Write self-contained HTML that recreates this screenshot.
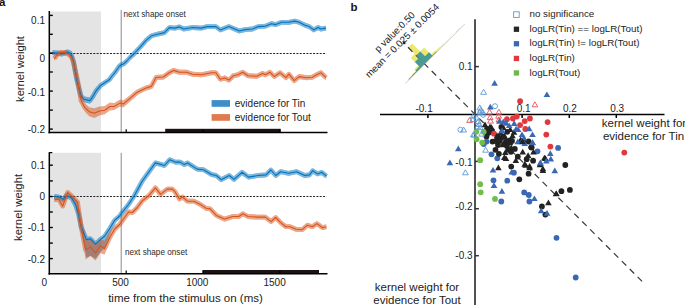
<!DOCTYPE html><html><head><meta charset="utf-8"><style>html,body{margin:0;padding:0;background:#fff;}svg{display:block;}text{font-family:"Liberation Sans", sans-serif;}</style></head><body>
<svg width="685" height="305" viewBox="0 0 685 305">
<rect width="685" height="305" fill="#fff"/>
<text x="-1" y="6.2" font-size="11.5" font-weight="bold" fill="#1a1010">a</text>
<text x="350.5" y="11.2" font-size="11.5" font-weight="bold" fill="#1a1010">b</text>
<rect x="50" y="11.5" width="51" height="121.1" fill="#e4e4e4"/>
<line x1="121.2" y1="10.0" x2="121.2" y2="132.6" stroke="#8a8a8a" stroke-width="1"/>
<line x1="50" y1="53.5" x2="326.5" y2="53.5" stroke="#222" stroke-width="1" stroke-dasharray="2,1.33"/>
<g opacity="0.5">
<polygon points="52.5,50.2 57.0,50.6 61.5,51.6 64.0,51.1 67.2,49.5 70.0,50.4 71.5,53.1 73.5,59.1 76.8,77.6 81.1,93.4 84.0,96.2 89.9,97.4 92.1,94.4 96.5,87.7 101.0,82.8 105.4,79.8 109.2,77.4 112.0,73.6 115.1,69.9 119.3,63.8 121.5,62.1 123.3,61.7 126.8,58.6 130.0,55.1 133.8,51.6 138.5,46.5 140.0,45.0 145.8,38.3 151.7,33.3 157.5,31.8 164.5,30.2 169.3,25.2 175.0,25.7 179.4,24.5 183.8,26.6 192.6,25.1 201.3,25.7 207.2,24.2 215.9,24.2 220.3,27.5 229.0,24.2 239.3,28.6 245.1,27.2 252.4,26.6 258.2,24.2 265.5,23.7 271.4,21.3 275.8,22.2 281.6,19.9 288.9,19.9 294.7,18.7 299.1,19.9 305.0,22.8 309.3,24.2 313.7,27.5 318.1,25.1 321.0,26.6 326.0,25.7 326.0,30.5 321.0,31.4 318.1,29.9 313.7,32.3 309.3,29.0 305.0,27.6 299.1,24.7 294.7,23.5 288.9,24.7 281.6,24.7 275.8,27.0 271.4,26.1 265.5,28.5 258.2,29.0 252.4,31.4 245.1,32.0 239.3,33.4 229.0,29.0 220.3,32.3 215.9,29.0 207.2,29.0 201.3,30.5 192.6,29.9 183.8,31.4 179.4,29.3 175.0,30.5 169.3,30.0 164.5,35.0 157.5,36.6 151.7,38.1 145.8,43.1 140.0,49.8 138.5,51.3 133.8,56.4 130.0,59.9 126.8,63.4 123.3,66.5 121.5,66.9 119.3,68.6 115.1,74.7 112.0,78.4 109.2,82.2 105.4,84.6 101.0,87.6 96.5,92.9 92.1,101.0 89.9,103.8 84.0,102.2 81.1,99.0 76.8,82.4 73.5,63.9 71.5,57.9 70.0,55.2 67.2,54.3 64.0,55.9 61.5,56.4 57.0,55.4 52.5,55.0" fill="#0072bd" />
<polyline points="52.5,52.6 57.0,53.0 61.5,54.0 64.0,53.5 67.2,51.9 70.0,52.8 71.5,55.5 73.5,61.5 76.8,80.0 81.1,96.2 84.0,99.2 89.9,100.6 92.1,97.7 96.5,90.3 101.0,85.2 105.4,82.2 109.2,79.8 112.0,76.0 115.1,72.3 119.3,66.2 121.5,64.5 123.3,64.1 126.8,61.0 130.0,57.5 133.8,54.0 138.5,48.9 140.0,47.4 145.8,40.7 151.7,35.7 157.5,34.2 164.5,32.6 169.3,27.6 175.0,28.1 179.4,26.9 183.8,29.0 192.6,27.5 201.3,28.1 207.2,26.6 215.9,26.6 220.3,29.9 229.0,26.6 239.3,31.0 245.1,29.6 252.4,29.0 258.2,26.6 265.5,26.1 271.4,23.7 275.8,24.6 281.6,22.3 288.9,22.3 294.7,21.1 299.1,22.3 305.0,25.2 309.3,26.6 313.7,29.9 318.1,27.5 321.0,29.0 326.0,28.1" fill="none" stroke="#0072bd" stroke-width="4.8" stroke-linejoin="round"/>
</g>
<g opacity="0.5">
<polygon points="54.3,56.3 57.0,52.6 60.2,49.9 64.9,50.0 68.0,51.6 71.5,54.6 73.5,60.1 77.5,77.6 81.1,97.4 84.7,103.2 89.2,107.2 94.3,108.3 99.5,106.5 104.7,106.1 109.8,102.6 114.2,102.9 120.2,99.4 123.3,100.6 129.1,96.2 137.3,89.7 145.5,85.7 151.3,83.9 156.0,75.0 163.4,74.5 169.2,70.3 173.6,67.9 179.4,69.7 186.7,69.7 192.6,71.7 201.3,72.3 211.5,70.3 215.9,70.3 220.3,76.7 224.7,75.5 229.0,77.6 233.4,73.2 237.8,72.3 242.8,69.7 248.0,73.2 256.8,73.8 262.6,70.9 265.5,72.3 269.9,69.7 274.3,74.1 280.1,70.3 286.0,75.2 288.9,71.7 294.2,78.2 299.1,74.1 306.4,75.2 312.3,74.7 316.6,72.3 321.0,70.3 326.0,75.2 326.0,80.2 321.0,75.3 316.6,77.3 312.3,79.7 306.4,80.2 299.1,79.1 294.2,83.2 288.9,76.7 286.0,80.2 280.1,75.3 274.3,79.1 269.9,74.7 265.5,77.3 262.6,75.9 256.8,78.8 248.0,78.2 242.8,74.7 237.8,77.3 233.4,78.2 229.0,82.6 224.7,80.5 220.3,81.7 215.9,75.3 211.5,75.3 201.3,77.3 192.6,76.7 186.7,74.7 179.4,74.7 173.6,72.9 169.2,75.3 163.4,79.5 156.0,80.0 151.3,88.9 145.5,90.7 137.3,94.7 129.1,102.2 123.3,107.4 120.2,106.4 114.2,110.1 109.8,110.4 104.7,114.3 99.5,115.5 94.3,118.1 89.2,116.2 84.7,111.4 81.1,103.8 77.5,82.4 73.5,64.9 71.5,59.4 68.0,56.4 64.9,54.8 60.2,54.7 57.0,57.4 54.3,61.1" fill="#d95319" />
<polyline points="54.3,58.7 57.0,55.0 60.2,52.3 64.9,52.4 68.0,54.0 71.5,57.0 73.5,62.5 77.5,80.0 81.1,100.6 84.7,107.3 89.2,111.7 94.3,113.2 99.5,111.0 104.7,110.2 109.8,106.5 114.2,106.5 120.2,102.9 123.3,104.0 129.1,99.2 137.3,92.2 145.5,88.2 151.3,86.4 156.0,77.5 163.4,77.0 169.2,72.8 173.6,70.4 179.4,72.2 186.7,72.2 192.6,74.2 201.3,74.8 211.5,72.8 215.9,72.8 220.3,79.2 224.7,78.0 229.0,80.1 233.4,75.7 237.8,74.8 242.8,72.2 248.0,75.7 256.8,76.3 262.6,73.4 265.5,74.8 269.9,72.2 274.3,76.6 280.1,72.8 286.0,77.7 288.9,74.2 294.2,80.7 299.1,76.6 306.4,77.7 312.3,77.2 316.6,74.8 321.0,72.8 326.0,77.7" fill="none" stroke="#d95319" stroke-width="4.8" stroke-linejoin="round"/>
</g>
<polyline points="52.5,52.6 57.0,53.0 61.5,54.0 64.0,53.5 67.2,51.9 70.0,52.8 71.5,55.5 73.5,61.5 76.8,80.0 81.1,96.2 84.0,99.2 89.9,100.6 92.1,97.7 96.5,90.3 101.0,85.2 105.4,82.2 109.2,79.8 112.0,76.0 115.1,72.3 119.3,66.2 121.5,64.5 123.3,64.1 126.8,61.0 130.0,57.5 133.8,54.0 138.5,48.9 140.0,47.4 145.8,40.7 151.7,35.7 157.5,34.2 164.5,32.6 169.3,27.6 175.0,28.1 179.4,26.9 183.8,29.0 192.6,27.5 201.3,28.1 207.2,26.6 215.9,26.6 220.3,29.9 229.0,26.6 239.3,31.0 245.1,29.6 252.4,29.0 258.2,26.6 265.5,26.1 271.4,23.7 275.8,24.6 281.6,22.3 288.9,22.3 294.7,21.1 299.1,22.3 305.0,25.2 309.3,26.6 313.7,29.9 318.1,27.5 321.0,29.0 326.0,28.1" fill="none" stroke="#0072bd" stroke-width="1.1" stroke-linejoin="round"/>
<polyline points="54.3,58.7 57.0,55.0 60.2,52.3 64.9,52.4 68.0,54.0 71.5,57.0 73.5,62.5 77.5,80.0 81.1,100.6 84.7,107.3 89.2,111.7 94.3,113.2 99.5,111.0 104.7,110.2 109.8,106.5 114.2,106.5 120.2,102.9 123.3,104.0 129.1,99.2 137.3,92.2 145.5,88.2 151.3,86.4 156.0,77.5 163.4,77.0 169.2,72.8 173.6,70.4 179.4,72.2 186.7,72.2 192.6,74.2 201.3,74.8 211.5,72.8 215.9,72.8 220.3,79.2 224.7,78.0 229.0,80.1 233.4,75.7 237.8,74.8 242.8,72.2 248.0,75.7 256.8,76.3 262.6,73.4 265.5,74.8 269.9,72.2 274.3,76.6 280.1,72.8 286.0,77.7 288.9,74.2 294.2,80.7 299.1,76.6 306.4,77.7 312.3,77.2 316.6,74.8 321.0,72.8 326.0,77.7" fill="none" stroke="#d95319" stroke-width="1.1" stroke-linejoin="round"/>
<rect x="165.2" y="128.8" width="115.5" height="3.8" fill="#1c1212"/>
<line x1="49.3" y1="11.0" x2="49.3" y2="133.3" stroke="#000" stroke-width="1.5"/>
<line x1="48.5" y1="132.6" x2="327.5" y2="132.6" stroke="#000" stroke-width="1.5"/>
<line x1="49.3" y1="15.4" x2="52.8" y2="15.4" stroke="#000" stroke-width="1.4"/>
<line x1="49.3" y1="34.3" x2="52.8" y2="34.3" stroke="#000" stroke-width="1.4"/>
<line x1="49.3" y1="53.1" x2="52.8" y2="53.1" stroke="#000" stroke-width="1.4"/>
<line x1="49.3" y1="72.0" x2="52.8" y2="72.0" stroke="#000" stroke-width="1.4"/>
<line x1="49.3" y1="91.1" x2="52.8" y2="91.1" stroke="#000" stroke-width="1.4"/>
<line x1="49.3" y1="110.1" x2="52.8" y2="110.1" stroke="#000" stroke-width="1.4"/>
<line x1="49.3" y1="129.1" x2="52.8" y2="129.1" stroke="#000" stroke-width="1.4"/>
<line x1="126.2" y1="132.6" x2="126.2" y2="129.3" stroke="#000" stroke-width="1.2"/>
<line x1="203.0" y1="132.6" x2="203.0" y2="129.3" stroke="#000" stroke-width="1.2"/>
<line x1="279.8" y1="132.6" x2="279.8" y2="129.3" stroke="#000" stroke-width="1.2"/>
<text x="45" y="23.6" font-size="10" text-anchor="end" fill="#222">0.1</text>
<text x="45" y="61.9" font-size="10" text-anchor="end" fill="#222">0</text>
<text x="45" y="95.7" font-size="10" text-anchor="end" fill="#222">-0.1</text>
<text x="45" y="132.6" font-size="10" text-anchor="end" fill="#222">-0.2</text>
<text x="123.5" y="16.9" font-size="8.2" fill="#2a2a2a">next shape onset</text>
<rect x="50" y="152.8" width="51" height="121.0" fill="#e4e4e4"/>
<line x1="121.2" y1="152.8" x2="121.2" y2="273.8" stroke="#8a8a8a" stroke-width="1"/>
<line x1="50" y1="196.5" x2="326.5" y2="196.5" stroke="#222" stroke-width="1" stroke-dasharray="2,1.33"/>
<g opacity="0.5">
<polygon points="54.4,193.9 59.8,194.9 63.2,196.9 66.2,193.4 71.6,195.4 75.5,202.3 78.4,211.1 81.2,224.3 86.4,237.1 90.5,236.3 95.5,241.7 100.4,237.1 104.8,233.5 109.8,226.1 114.7,217.9 119.6,213.6 124.5,207.1 128.5,202.1 134.4,193.1 142.2,178.8 148.8,169.6 155.4,160.5 164.5,163.1 169.8,157.3 175.3,159.7 180.2,159.7 184.3,162.2 187.6,160.6 197.1,166.7 203.5,167.3 211.5,172.1 216.3,173.1 221.2,177.3 229.2,173.1 234.0,177.0 242.0,169.9 248.5,174.7 258.1,173.1 266.1,172.5 270.9,167.6 275.7,173.1 280.6,169.3 288.6,170.9 296.6,169.3 304.7,173.1 309.5,172.5 312.7,168.3 317.5,171.5 321.7,169.9 326.5,173.7 326.5,178.5 321.7,174.7 317.5,176.3 312.7,173.1 309.5,177.3 304.7,177.9 296.6,174.1 288.6,175.7 280.6,174.1 275.7,177.9 270.9,172.4 266.1,177.3 258.1,177.9 248.5,179.5 242.0,174.7 234.0,181.8 229.2,177.9 221.2,182.1 216.3,177.9 211.5,176.9 203.5,172.1 197.1,171.5 187.6,165.4 184.3,167.0 180.2,164.5 175.3,164.5 169.8,162.1 164.5,167.9 155.4,165.3 148.8,174.4 142.2,183.6 134.4,197.9 128.5,206.9 124.5,211.9 119.6,218.4 114.7,223.3 109.8,234.5 104.8,248.0 100.4,252.1 95.5,258.7 90.5,255.8 86.4,257.6 81.2,230.3 78.4,216.3 75.5,207.1 71.6,200.2 66.2,198.2 63.2,201.7 59.8,199.7 54.4,198.7" fill="#0072bd" />
<polyline points="54.4,196.3 59.8,197.3 63.2,199.3 66.2,195.8 71.6,197.8 75.5,204.7 78.4,213.5 81.2,226.8 86.4,239.6 90.5,238.8 95.5,244.2 100.4,239.6 104.8,236.0 109.8,228.5 114.7,220.3 119.6,216.0 124.5,209.5 128.5,204.5 134.4,195.5 142.2,181.2 148.8,172.0 155.4,162.9 164.5,165.5 169.8,159.7 175.3,162.1 180.2,162.1 184.3,164.6 187.6,163.0 197.1,169.1 203.5,169.7 211.5,174.5 216.3,175.5 221.2,179.7 229.2,175.5 234.0,179.4 242.0,172.3 248.5,177.1 258.1,175.5 266.1,174.9 270.9,170.0 275.7,175.5 280.6,171.7 288.6,173.3 296.6,171.7 304.7,175.5 309.5,174.9 312.7,170.7 317.5,173.9 321.7,172.3 326.5,176.1" fill="none" stroke="#0072bd" stroke-width="4.8" stroke-linejoin="round"/>
</g>
<g opacity="0.5">
<polygon points="54.4,197.3 58.8,196.9 62.7,203.7 67.6,190.0 72.5,194.4 77.5,199.7 79.4,212.3 81.2,223.8 85.6,240.0 90.5,238.5 95.5,244.5 100.4,239.6 104.5,240.8 109.8,231.3 114.7,225.0 119.6,222.0 123.5,216.6 128.5,209.6 132.4,210.1 137.3,205.1 142.2,198.5 148.8,193.3 155.4,185.4 160.6,192.0 167.2,186.7 172.4,186.7 175.0,189.3 179.4,196.6 182.6,194.6 187.4,198.8 193.9,198.8 200.3,202.0 206.1,205.9 210.2,206.5 216.3,213.0 224.5,216.7 232.7,214.1 238.8,214.1 242.9,211.4 248.0,214.1 257.2,214.7 265.4,214.7 271.1,219.2 275.6,215.1 280.7,220.2 285.8,224.3 289.9,224.3 296.1,226.9 302.2,227.3 307.3,222.8 312.4,224.3 316.9,221.2 322.6,225.3 326.3,224.3 326.3,229.1 322.6,230.1 316.9,226.0 312.4,229.1 307.3,227.6 302.2,232.1 296.1,231.7 289.9,229.1 285.8,229.1 280.7,225.0 275.6,219.9 271.1,224.0 265.4,219.5 257.2,219.5 248.0,218.9 242.9,216.2 238.8,218.9 232.7,218.9 224.5,221.5 216.3,217.8 210.2,211.3 206.1,210.7 200.3,206.8 193.9,203.6 187.4,203.6 182.6,199.4 179.4,201.4 175.0,194.1 172.4,191.5 167.2,191.5 160.6,196.8 155.4,190.2 148.8,198.1 142.2,203.3 137.3,209.9 132.4,214.9 128.5,214.4 123.5,221.4 119.6,226.9 114.7,232.0 109.8,241.8 104.5,254.8 100.4,253.1 95.5,260.5 90.5,256.0 85.6,259.5 81.2,231.8 79.4,218.9 77.5,204.9 72.5,199.2 67.6,194.8 62.7,208.5 58.8,201.7 54.4,202.1" fill="#d95319" />
<polyline points="54.4,199.7 58.8,199.3 62.7,206.1 67.6,192.4 72.5,196.8 77.5,202.2 79.4,215.0 81.2,226.8 85.6,250.0 90.5,247.0 95.5,253.0 100.4,245.6 104.5,248.8 109.8,237.3 114.7,229.0 119.6,224.5 123.5,219.0 128.5,212.0 132.4,212.5 137.3,207.5 142.2,200.9 148.8,195.7 155.4,187.8 160.6,194.4 167.2,189.1 172.4,189.1 175.0,191.7 179.4,199.0 182.6,197.0 187.4,201.2 193.9,201.2 200.3,204.4 206.1,208.3 210.2,208.9 216.3,215.4 224.5,219.1 232.7,216.5 238.8,216.5 242.9,213.8 248.0,216.5 257.2,217.1 265.4,217.1 271.1,221.6 275.6,217.5 280.7,222.6 285.8,226.7 289.9,226.7 296.1,229.3 302.2,229.7 307.3,225.2 312.4,226.7 316.9,223.6 322.6,227.7 326.3,226.7" fill="none" stroke="#d95319" stroke-width="4.8" stroke-linejoin="round"/>
</g>
<polyline points="54.4,196.3 59.8,197.3 63.2,199.3 66.2,195.8 71.6,197.8 75.5,204.7 78.4,213.5 81.2,226.8 86.4,239.6 90.5,238.8 95.5,244.2 100.4,239.6 104.8,236.0 109.8,228.5 114.7,220.3 119.6,216.0 124.5,209.5 128.5,204.5 134.4,195.5 142.2,181.2 148.8,172.0 155.4,162.9 164.5,165.5 169.8,159.7 175.3,162.1 180.2,162.1 184.3,164.6 187.6,163.0 197.1,169.1 203.5,169.7 211.5,174.5 216.3,175.5 221.2,179.7 229.2,175.5 234.0,179.4 242.0,172.3 248.5,177.1 258.1,175.5 266.1,174.9 270.9,170.0 275.7,175.5 280.6,171.7 288.6,173.3 296.6,171.7 304.7,175.5 309.5,174.9 312.7,170.7 317.5,173.9 321.7,172.3 326.5,176.1" fill="none" stroke="#0072bd" stroke-width="1.1" stroke-linejoin="round"/>
<polyline points="54.4,199.7 58.8,199.3 62.7,206.1 67.6,192.4 72.5,196.8 77.5,202.2 79.4,215.0 81.2,226.8 85.6,250.0 90.5,247.0 95.5,253.0 100.4,245.6 104.5,248.8 109.8,237.3 114.7,229.0 119.6,224.5 123.5,219.0 128.5,212.0 132.4,212.5 137.3,207.5 142.2,200.9 148.8,195.7 155.4,187.8 160.6,194.4 167.2,189.1 172.4,189.1 175.0,191.7 179.4,199.0 182.6,197.0 187.4,201.2 193.9,201.2 200.3,204.4 206.1,208.3 210.2,208.9 216.3,215.4 224.5,219.1 232.7,216.5 238.8,216.5 242.9,213.8 248.0,216.5 257.2,217.1 265.4,217.1 271.1,221.6 275.6,217.5 280.7,222.6 285.8,226.7 289.9,226.7 296.1,229.3 302.2,229.7 307.3,225.2 312.4,226.7 316.9,223.6 322.6,227.7 326.3,226.7" fill="none" stroke="#d95319" stroke-width="1.1" stroke-linejoin="round"/>
<rect x="202.7" y="270.0" width="116.3" height="3.8" fill="#1c1212"/>
<line x1="49.3" y1="152.3" x2="49.3" y2="274.6" stroke="#000" stroke-width="1.5"/>
<line x1="48.5" y1="273.8" x2="327.5" y2="273.8" stroke="#000" stroke-width="1.5"/>
<line x1="49.3" y1="165.2" x2="52.8" y2="165.2" stroke="#000" stroke-width="1.4"/>
<line x1="49.3" y1="180.9" x2="52.8" y2="180.9" stroke="#000" stroke-width="1.4"/>
<line x1="49.3" y1="196.5" x2="52.8" y2="196.5" stroke="#000" stroke-width="1.4"/>
<line x1="49.3" y1="212.0" x2="52.8" y2="212.0" stroke="#000" stroke-width="1.4"/>
<line x1="49.3" y1="227.5" x2="52.8" y2="227.5" stroke="#000" stroke-width="1.4"/>
<line x1="49.3" y1="243.1" x2="52.8" y2="243.1" stroke="#000" stroke-width="1.4"/>
<line x1="49.3" y1="258.6" x2="52.8" y2="258.6" stroke="#000" stroke-width="1.4"/>
<line x1="49.3" y1="152.6" x2="52.3" y2="152.6" stroke="#000" stroke-width="1.2"/>
<line x1="126.2" y1="273.8" x2="126.2" y2="270.5" stroke="#000" stroke-width="1.2"/>
<line x1="203.0" y1="273.8" x2="203.0" y2="270.5" stroke="#000" stroke-width="1.2"/>
<line x1="279.8" y1="273.8" x2="279.8" y2="270.5" stroke="#000" stroke-width="1.2"/>
<text x="45" y="168.7" font-size="10" text-anchor="end" fill="#222">0.1</text>
<text x="45" y="199.9" font-size="10" text-anchor="end" fill="#222">0</text>
<text x="45" y="231.0" font-size="10" text-anchor="end" fill="#222">-0.1</text>
<text x="45" y="262.6" font-size="10" text-anchor="end" fill="#222">-0.2</text>
<text x="124.9" y="254.9" font-size="8.2" fill="#2a2a2a">next shape onset</text>
<text transform="translate(23.8,69.0) rotate(-90)" font-size="11.2" text-anchor="middle" fill="#222">kernel weight</text>
<text transform="translate(22.4,207.4) rotate(-90)" font-size="11.4" text-anchor="middle" fill="#222">kernel weight</text>
<rect x="211.6" y="100.1" width="18.4" height="6.7" fill="#3d8ec9"/>
<rect x="211.6" y="114.1" width="18.4" height="6.7" fill="#e07a50"/>
<text x="234.8" y="106.6" font-size="10" fill="#222">evidence for Tin</text>
<text x="234.8" y="120.5" font-size="10" fill="#222">evidence for Tout</text>
<text x="44.4" y="285.7" font-size="10" text-anchor="middle" fill="#222">0</text>
<text x="120.5" y="285.7" font-size="10" text-anchor="middle" fill="#222">500</text>
<text x="197.3" y="285.7" font-size="10" text-anchor="middle" fill="#222">1000</text>
<text x="274.6" y="285.7" font-size="10" text-anchor="middle" fill="#222">1500</text>
<text x="185.5" y="301.5" font-size="11.5" text-anchor="middle" fill="#222">time from the stimulus on (ms)</text>
<line x1="380" y1="114.4" x2="664.5" y2="114.4" stroke="#000" stroke-width="1.5"/>
<line x1="475.0" y1="19.2" x2="475.0" y2="305" stroke="#404040" stroke-width="1.8"/>
<line x1="427.9" y1="114.4" x2="427.9" y2="118.0" stroke="#000" stroke-width="1.5"/>
<line x1="522.1" y1="114.4" x2="522.1" y2="118.0" stroke="#000" stroke-width="1.5"/>
<line x1="569.3" y1="114.4" x2="569.3" y2="118.0" stroke="#000" stroke-width="1.5"/>
<line x1="616.3" y1="114.4" x2="616.3" y2="118.0" stroke="#000" stroke-width="1.5"/>
<line x1="475" y1="66.6" x2="478.9" y2="66.6" stroke="#333" stroke-width="1.5"/>
<line x1="475" y1="161.4" x2="478.9" y2="161.4" stroke="#333" stroke-width="1.5"/>
<line x1="475" y1="208.7" x2="478.9" y2="208.7" stroke="#333" stroke-width="1.5"/>
<line x1="475" y1="255.7" x2="478.9" y2="255.7" stroke="#333" stroke-width="1.5"/>
<text x="424.1" y="111.8" font-size="10" text-anchor="middle" fill="#222">-0.1</text>
<text x="523.6" y="111.8" font-size="10" text-anchor="middle" fill="#222">0.1</text>
<text x="569.9" y="111.8" font-size="10" text-anchor="middle" fill="#222">0.2</text>
<text x="617.2" y="111.8" font-size="10" text-anchor="middle" fill="#222">0.3</text>
<text x="472.6" y="69.8" font-size="10" text-anchor="end" fill="#222">0.1</text>
<text x="472.6" y="165.5" font-size="10" text-anchor="end" fill="#222">-0.1</text>
<text x="472.6" y="210.4" font-size="10" text-anchor="end" fill="#222">-0.2</text>
<text x="472.6" y="258.7" font-size="10" text-anchor="end" fill="#222">-0.3</text>
<text x="644" y="127.3" font-size="11.5" text-anchor="middle" fill="#222">kernel weight for</text>
<text x="643.5" y="139.8" font-size="11.5" text-anchor="middle" fill="#222">evidence for Tin</text>
<text x="417" y="290.5" font-size="11.5" text-anchor="middle" fill="#222">kernel weight for</text>
<text x="417" y="303.6" font-size="11.5" text-anchor="middle" fill="#222">evidence for Tout</text>
<rect x="513.6" y="11.8" width="5.6" height="5.6" fill="none" stroke="#5a9ad6" stroke-width="0.9"/>
<text x="529.5" y="17.1" font-size="9.8" fill="#222">no significance</text>
<rect x="513.8" y="26.6" width="5.3" height="5.3" fill="#262626"/>
<text x="529.5" y="31.7" font-size="9.8" fill="#222">logLR(Tin) == logLR(Tout)</text>
<rect x="513.8" y="41.1" width="5.3" height="5.3" fill="#3a68b4"/>
<text x="529.5" y="46.3" font-size="9.8" fill="#222">logLR(Tin) != logLR(Tout)</text>
<rect x="513.8" y="55.8" width="5.3" height="5.3" fill="#e0383c"/>
<text x="529.5" y="60.9" font-size="9.8" fill="#222">logLR(Tin)</text>
<rect x="513.8" y="70.3" width="5.3" height="5.3" fill="#6cb84a"/>
<text x="529.5" y="75.5" font-size="9.8" fill="#222">logLR(Tout)</text>
<g transform="translate(424.6,63.9) rotate(-45)">
<line x1="-27.5" y1="0.2" x2="56.5" y2="0.2" stroke="#c4c4c4" stroke-width="0.8"/>
<path d="M-22.30,0.00 L-22.30,-0.50 L-16.70,-0.50 L-16.70,-1.20 L-11.10,-1.20 L-11.10,-3.40 L-5.50,-3.40 L-5.50,-14.00 L0.10,-14.00 L0.10,-23.30 L5.70,-23.30 L5.70,-12.00 L11.30,-12.00 L11.30,-2.00 L16.90,-2.00 L16.90,-1.40 L22.50,-1.40 L22.50,-0.90 L28.10,-0.90 L28.10,-0.50 L33.70,-0.50 L33.70,-0.30 L39.30,-0.30 L39.30,0.00 L44.90,0.00 L44.90,-0.60 L50.50,-0.60 L50.50,0.00 L56.10,0.00 L56.10,0.00 Z" fill="#ece76f"/>
</g>
<line x1="407.96" y1="47.26" x2="645.5" y2="284.8" stroke="#3a3a3a" stroke-width="1.2" stroke-dasharray="6.3,4.9"/>
<g transform="translate(424.6,63.9) rotate(-45)">
<path d="M-22.30,0.00 L-22.30,-0.60 L-16.70,-0.60 L-16.70,-0.80 L-11.10,-0.80 L-11.10,-1.90 L-5.50,-1.90 L-5.50,-8.20 L0.10,-8.20 L0.10,-11.90 L5.70,-11.90 L5.70,-5.00 L11.30,-5.00 L11.30,-0.50 L16.90,-0.50 L16.90,0.00 Z" fill="#4a9a95"/>
</g>
<text transform="translate(394.6,31.8) rotate(-45)" font-size="9.6" text-anchor="middle" fill="#222" dy="3.5">p value:0.50</text>
<text transform="translate(402.0,40.6) rotate(-45)" font-size="9.7" text-anchor="middle" fill="#222" dy="3.5">mean = 0.025 ± 0.0054</text>
<g transform="translate(424.6,63.9) rotate(-45)"><path d="M-1.5,-29.5 L2.2,-29.5 M0.35,-31.4 L0.35,-27.6" stroke="#1a1a1a" stroke-width="1.1"/></g>
<circle cx="495.0" cy="106.2" r="2.5" fill="none" stroke="#5a9ad6" stroke-width="0.9"/>
<circle cx="483.2" cy="114.8" r="2.5" fill="none" stroke="#5a9ad6" stroke-width="0.9"/>
<circle cx="460.4" cy="129.8" r="2.5" fill="none" stroke="#5a9ad6" stroke-width="0.9"/>
<circle cx="487.0" cy="129.0" r="2.9" fill="#222222"/>
<circle cx="492.0" cy="131.0" r="2.9" fill="#222222"/>
<circle cx="488.6" cy="132.8" r="2.9" fill="#222222"/>
<circle cx="486.5" cy="136.5" r="2.9" fill="#222222"/>
<circle cx="492.5" cy="141.6" r="2.9" fill="#222222"/>
<circle cx="498.4" cy="137.7" r="2.9" fill="#222222"/>
<circle cx="503.0" cy="137.0" r="2.9" fill="#222222"/>
<circle cx="507.3" cy="131.8" r="2.9" fill="#222222"/>
<circle cx="509.2" cy="140.6" r="2.9" fill="#222222"/>
<circle cx="501.4" cy="126.9" r="2.9" fill="#222222"/>
<circle cx="512.0" cy="141.0" r="2.9" fill="#222222"/>
<circle cx="495.5" cy="149.8" r="2.9" fill="#222222"/>
<circle cx="508.3" cy="149.8" r="2.9" fill="#222222"/>
<circle cx="507.0" cy="143.0" r="2.9" fill="#222222"/>
<circle cx="514.8" cy="148.9" r="2.9" fill="#222222"/>
<circle cx="510.9" cy="151.8" r="2.9" fill="#222222"/>
<circle cx="517.8" cy="156.7" r="2.9" fill="#222222"/>
<circle cx="526.7" cy="159.2" r="2.9" fill="#222222"/>
<circle cx="533.1" cy="160.7" r="2.9" fill="#222222"/>
<circle cx="531.6" cy="147.4" r="2.9" fill="#222222"/>
<circle cx="511.2" cy="166.6" r="2.9" fill="#222222"/>
<circle cx="519.3" cy="179.3" r="2.9" fill="#222222"/>
<circle cx="528.6" cy="173.7" r="2.9" fill="#222222"/>
<circle cx="565.3" cy="165.0" r="2.9" fill="#222222"/>
<circle cx="561.4" cy="191.2" r="2.9" fill="#222222"/>
<circle cx="569.9" cy="189.9" r="2.9" fill="#222222"/>
<circle cx="541.9" cy="206.4" r="2.9" fill="#222222"/>
<circle cx="545.4" cy="214.6" r="2.9" fill="#222222"/>
<circle cx="524.0" cy="142.0" r="2.9" fill="#222222"/>
<circle cx="528.6" cy="141.5" r="2.9" fill="#222222"/>
<circle cx="531.2" cy="147.3" r="2.9" fill="#222222"/>
<circle cx="500.0" cy="140.0" r="2.9" fill="#222222"/>
<circle cx="507.0" cy="146.0" r="2.9" fill="#222222"/>
<circle cx="498.0" cy="145.0" r="2.9" fill="#222222"/>
<circle cx="496.0" cy="141.0" r="2.9" fill="#222222"/>
<circle cx="486.6" cy="141.6" r="2.9" fill="#3a68b4"/>
<circle cx="483.7" cy="144.1" r="2.9" fill="#3a68b4"/>
<circle cx="491.5" cy="154.3" r="2.9" fill="#3a68b4"/>
<circle cx="497.3" cy="158.3" r="2.9" fill="#3a68b4"/>
<circle cx="537.5" cy="151.3" r="2.9" fill="#3a68b4"/>
<circle cx="558.1" cy="147.9" r="2.9" fill="#3a68b4"/>
<circle cx="493.5" cy="180.3" r="2.9" fill="#3a68b4"/>
<circle cx="507.3" cy="180.7" r="2.9" fill="#3a68b4"/>
<circle cx="513.9" cy="172.7" r="2.9" fill="#3a68b4"/>
<circle cx="524.2" cy="192.4" r="2.9" fill="#3a68b4"/>
<circle cx="528.8" cy="195.0" r="2.9" fill="#3a68b4"/>
<circle cx="529.4" cy="201.5" r="2.9" fill="#3a68b4"/>
<circle cx="501.3" cy="201.5" r="2.9" fill="#3a68b4"/>
<circle cx="556.5" cy="237.8" r="2.9" fill="#3a68b4"/>
<circle cx="575.7" cy="277.5" r="2.9" fill="#3a68b4"/>
<circle cx="520.1" cy="101.2" r="2.9" fill="#e0383c"/>
<circle cx="507.0" cy="119.2" r="2.9" fill="#e0383c"/>
<circle cx="512.9" cy="118.5" r="2.9" fill="#e0383c"/>
<circle cx="516.8" cy="116.6" r="2.9" fill="#e0383c"/>
<circle cx="524.7" cy="121.1" r="2.9" fill="#e0383c"/>
<circle cx="529.9" cy="118.5" r="2.9" fill="#e0383c"/>
<circle cx="520.1" cy="125.1" r="2.9" fill="#e0383c"/>
<circle cx="525.3" cy="129.0" r="2.9" fill="#e0383c"/>
<circle cx="547.6" cy="122.1" r="2.9" fill="#e0383c"/>
<circle cx="546.3" cy="134.6" r="2.9" fill="#e0383c"/>
<circle cx="550.4" cy="146.6" r="2.9" fill="#e0383c"/>
<circle cx="624.3" cy="152.6" r="2.9" fill="#e0383c"/>
<circle cx="494.0" cy="133.7" r="2.9" fill="#e0383c"/>
<circle cx="476.3" cy="131.8" r="2.9" fill="#72bc48"/>
<circle cx="476.6" cy="139.2" r="2.9" fill="#72bc48"/>
<circle cx="482.2" cy="142.6" r="2.9" fill="#72bc48"/>
<circle cx="483.7" cy="131.8" r="2.9" fill="#72bc48"/>
<circle cx="480.2" cy="160.2" r="2.9" fill="#72bc48"/>
<circle cx="480.2" cy="184.2" r="2.9" fill="#72bc48"/>
<circle cx="480.7" cy="192.3" r="2.9" fill="#72bc48"/>
<circle cx="495.0" cy="198.9" r="2.9" fill="#72bc48"/>
<polygon points="483.6,89.3 480.7,94.3 486.5,94.3" fill="none" stroke="#5a9ad6" stroke-width="0.9"/>
<polygon points="479.8,104.9 476.9,109.9 482.7,109.9" fill="none" stroke="#5a9ad6" stroke-width="0.9"/>
<polygon points="480.7,107.2 477.8,112.2 483.6,112.2" fill="none" stroke="#5a9ad6" stroke-width="0.9"/>
<polygon points="482.7,109.2 479.8,114.2 485.6,114.2" fill="none" stroke="#5a9ad6" stroke-width="0.9"/>
<polygon points="479.7,109.4 476.8,114.4 482.6,114.4" fill="none" stroke="#5a9ad6" stroke-width="0.9"/>
<polygon points="489.6,109.2 486.7,114.2 492.5,114.2" fill="none" stroke="#e0555a" stroke-width="0.9"/>
<polygon points="498.9,109.2 496.0,114.2 501.8,114.2" fill="none" stroke="#e0555a" stroke-width="0.9"/>
<polygon points="490.1,114.6 487.2,119.6 493.0,119.6" fill="none" stroke="#e0555a" stroke-width="0.9"/>
<polygon points="498.6,113.2 495.7,118.2 501.5,118.2" fill="none" stroke="#e0555a" stroke-width="0.9"/>
<polygon points="498.9,116.9 496.0,121.9 501.8,121.9" fill="none" stroke="#e0555a" stroke-width="0.9"/>
<polygon points="490.5,118.1 487.6,123.1 493.4,123.1" fill="none" stroke="#e0555a" stroke-width="0.9"/>
<polygon points="469.6,117.4 466.7,122.4 472.5,122.4" fill="none" stroke="#e0555a" stroke-width="0.9"/>
<polygon points="473.3,113.1 470.4,118.1 476.2,118.1" fill="none" stroke="#5a9ad6" stroke-width="0.9"/>
<polygon points="472.8,116.6 469.9,121.6 475.7,121.6" fill="none" stroke="#5a9ad6" stroke-width="0.9"/>
<polygon points="476.8,115.1 473.9,120.1 479.7,120.1" fill="none" stroke="#5a9ad6" stroke-width="0.9"/>
<polygon points="478.2,118.6 475.3,123.6 481.1,123.6" fill="none" stroke="#5a9ad6" stroke-width="0.9"/>
<polygon points="479.2,121.5 476.3,126.5 482.1,126.5" fill="none" stroke="#5a9ad6" stroke-width="0.9"/>
<polygon points="477.7,123.8 474.8,128.8 480.6,128.8" fill="none" stroke="#5a9ad6" stroke-width="0.9"/>
<polygon points="480.2,124.7 477.3,129.7 483.1,129.7" fill="none" stroke="#5a9ad6" stroke-width="0.9"/>
<polygon points="474.3,132.1 471.4,137.1 477.2,137.1" fill="none" stroke="#5a9ad6" stroke-width="0.9"/>
<polygon points="481.7,131.1 478.8,136.1 484.6,136.1" fill="none" stroke="#5a9ad6" stroke-width="0.9"/>
<polygon points="463.6,127.0 460.7,132.0 466.5,132.0" fill="none" stroke="#5a9ad6" stroke-width="0.9"/>
<polygon points="473.4,131.9 470.5,136.9 476.3,136.9" fill="none" stroke="#5a9ad6" stroke-width="0.9"/>
<polygon points="485.6,147.2 482.7,152.2 488.5,152.2" fill="none" stroke="#5a9ad6" stroke-width="0.9"/>
<polygon points="465.4,169.8 462.5,174.8 468.3,174.8" fill="none" stroke="#5a9ad6" stroke-width="0.9"/>
<polygon points="534.9,101.8 532.0,106.8 537.8,106.8" fill="none" stroke="#e0555a" stroke-width="0.9"/>
<polygon points="485.0,121.5 481.7,127.2 488.3,127.2" fill="#222222"/>
<polygon points="490.0,123.5 486.7,129.2 493.3,129.2" fill="#222222"/>
<polygon points="497.0,132.5 493.7,138.2 500.3,138.2" fill="#222222"/>
<polygon points="499.4,138.1 496.1,143.8 502.7,143.8" fill="#222222"/>
<polygon points="504.3,132.2 501.0,137.9 507.6,137.9" fill="#222222"/>
<polygon points="510.2,126.3 506.9,132.0 513.5,132.0" fill="#222222"/>
<polygon points="503.3,124.3 500.0,130.0 506.6,130.0" fill="#222222"/>
<polygon points="506.0,136.5 502.7,142.2 509.3,142.2" fill="#222222"/>
<polygon points="504.0,139.5 500.7,145.2 507.3,145.2" fill="#222222"/>
<polygon points="504.3,154.2 501.0,159.9 507.6,159.9" fill="#222222"/>
<polygon points="505.3,149.3 502.0,155.0 508.6,155.0" fill="#222222"/>
<polygon points="511.2,144.4 507.9,150.1 514.5,150.1" fill="#222222"/>
<polygon points="522.7,148.8 519.4,154.5 526.0,154.5" fill="#222222"/>
<polygon points="528.1,152.2 524.8,157.9 531.4,157.9" fill="#222222"/>
<polygon points="515.8,157.2 512.5,162.9 519.1,162.9" fill="#222222"/>
<polygon points="524.7,161.1 521.4,166.8 528.0,166.8" fill="#222222"/>
<polygon points="529.6,163.1 526.3,168.8 532.9,168.8" fill="#222222"/>
<polygon points="533.5,148.8 530.2,154.5 536.8,154.5" fill="#222222"/>
<polygon points="544.4,154.7 541.1,160.4 547.7,160.4" fill="#222222"/>
<polygon points="540.4,160.1 537.1,165.8 543.7,165.8" fill="#222222"/>
<polygon points="545.5,155.2 542.2,160.9 548.8,160.9" fill="#222222"/>
<polygon points="542.9,165.5 539.6,171.2 546.2,171.2" fill="#222222"/>
<polygon points="506.0,155.2 502.7,160.9 509.3,160.9" fill="#222222"/>
<polygon points="498.4,164.5 495.1,170.2 501.7,170.2" fill="#222222"/>
<polygon points="529.6,164.5 526.3,170.2 532.9,170.2" fill="#222222"/>
<polygon points="525.7,162.0 522.4,167.7 529.0,167.7" fill="#222222"/>
<polygon points="540.0,161.5 536.7,167.2 543.3,167.2" fill="#222222"/>
<polygon points="542.9,167.4 539.6,173.1 546.2,173.1" fill="#222222"/>
<polygon points="556.1,190.6 552.8,196.3 559.4,196.3" fill="#222222"/>
<polygon points="548.4,199.6 545.1,205.3 551.7,205.3" fill="#222222"/>
<polygon points="556.3,190.4 553.0,196.1 559.6,196.1" fill="#222222"/>
<polygon points="491.5,124.3 488.2,130.0 494.8,130.0" fill="#222222"/>
<polygon points="520.7,136.5 517.4,142.2 524.0,142.2" fill="#222222"/>
<polygon points="503.0,141.5 499.7,147.2 506.3,147.2" fill="#222222"/>
<polygon points="510.0,139.5 506.7,145.2 513.3,145.2" fill="#222222"/>
<polygon points="512.5,132.5 509.2,138.2 515.8,138.2" fill="#222222"/>
<polygon points="514.0,129.0 510.7,134.7 517.3,134.7" fill="#222222"/>
<polygon points="500.5,129.5 497.2,135.2 503.8,135.2" fill="#222222"/>
<polygon points="494.6,80.0 491.3,85.7 497.9,85.7" fill="#3a68b4"/>
<polygon points="490.3,103.8 487.0,109.5 493.6,109.5" fill="#3a68b4"/>
<polygon points="546.9,91.4 543.6,97.1 550.2,97.1" fill="#3a68b4"/>
<polygon points="499.4,118.0 496.1,123.7 502.7,123.7" fill="#3a68b4"/>
<polygon points="503.3,118.5 500.0,124.2 506.6,124.2" fill="#3a68b4"/>
<polygon points="506.3,120.0 503.0,125.7 509.6,125.7" fill="#3a68b4"/>
<polygon points="509.2,122.4 505.9,128.1 512.5,128.1" fill="#3a68b4"/>
<polygon points="514.2,120.3 510.9,126.0 517.5,126.0" fill="#3a68b4"/>
<polygon points="518.1,126.2 514.8,131.9 521.4,131.9" fill="#3a68b4"/>
<polygon points="529.2,125.5 525.9,131.2 532.5,131.2" fill="#3a68b4"/>
<polygon points="532.5,131.4 529.2,137.1 535.8,137.1" fill="#3a68b4"/>
<polygon points="522.0,131.4 518.7,137.1 525.3,137.1" fill="#3a68b4"/>
<polygon points="524.0,134.7 520.7,140.4 527.3,140.4" fill="#3a68b4"/>
<polygon points="532.5,139.3 529.2,145.0 535.8,145.0" fill="#3a68b4"/>
<polygon points="502.0,127.5 498.7,133.2 505.3,133.2" fill="#3a68b4"/>
<polygon points="516.1,125.7 512.8,131.4 519.4,131.4" fill="#3a68b4"/>
<polygon points="521.7,138.5 518.4,144.2 525.0,144.2" fill="#3a68b4"/>
<polygon points="517.8,138.5 514.5,144.2 521.1,144.2" fill="#3a68b4"/>
<polygon points="524.7,140.4 521.4,146.1 528.0,146.1" fill="#3a68b4"/>
<polygon points="532.6,139.5 529.3,145.2 535.9,145.2" fill="#3a68b4"/>
<polygon points="550.3,150.3 547.0,156.0 553.6,156.0" fill="#3a68b4"/>
<polygon points="550.8,155.7 547.5,161.4 554.1,161.4" fill="#3a68b4"/>
<polygon points="546.3,157.7 543.0,163.4 549.6,163.4" fill="#3a68b4"/>
<polygon points="540.4,159.6 537.1,165.3 543.7,165.3" fill="#3a68b4"/>
<polygon points="554.8,167.6 551.5,173.3 558.1,173.3" fill="#3a68b4"/>
<polygon points="493.0,166.9 489.7,172.6 496.3,172.6" fill="#3a68b4"/>
<polygon points="494.0,182.2 490.7,187.9 497.3,187.9" fill="#3a68b4"/>
<polygon points="501.9,188.1 498.6,193.8 505.2,193.8" fill="#3a68b4"/>
<polygon points="534.4,195.4 531.1,201.1 537.7,201.1" fill="#3a68b4"/>
<polygon points="541.2,207.5 537.9,213.2 544.5,213.2" fill="#3a68b4"/>
<polygon points="547.1,210.1 543.8,215.8 550.4,215.8" fill="#3a68b4"/>
<polygon points="458.3,145.6 455.0,151.3 461.6,151.3" fill="#3a68b4"/>
<polygon points="449.9,159.5 446.6,165.2 453.2,165.2" fill="#3a68b4"/>
<polygon points="511.7,168.9 508.4,174.6 515.0,174.6" fill="#3a68b4"/>
<circle cx="498.9" cy="153.8" r="2.9" fill="#222222"/>
<polygon points="522.4,138.4 519.1,144.1 525.7,144.1" fill="#222222"/>
</svg></body></html>
